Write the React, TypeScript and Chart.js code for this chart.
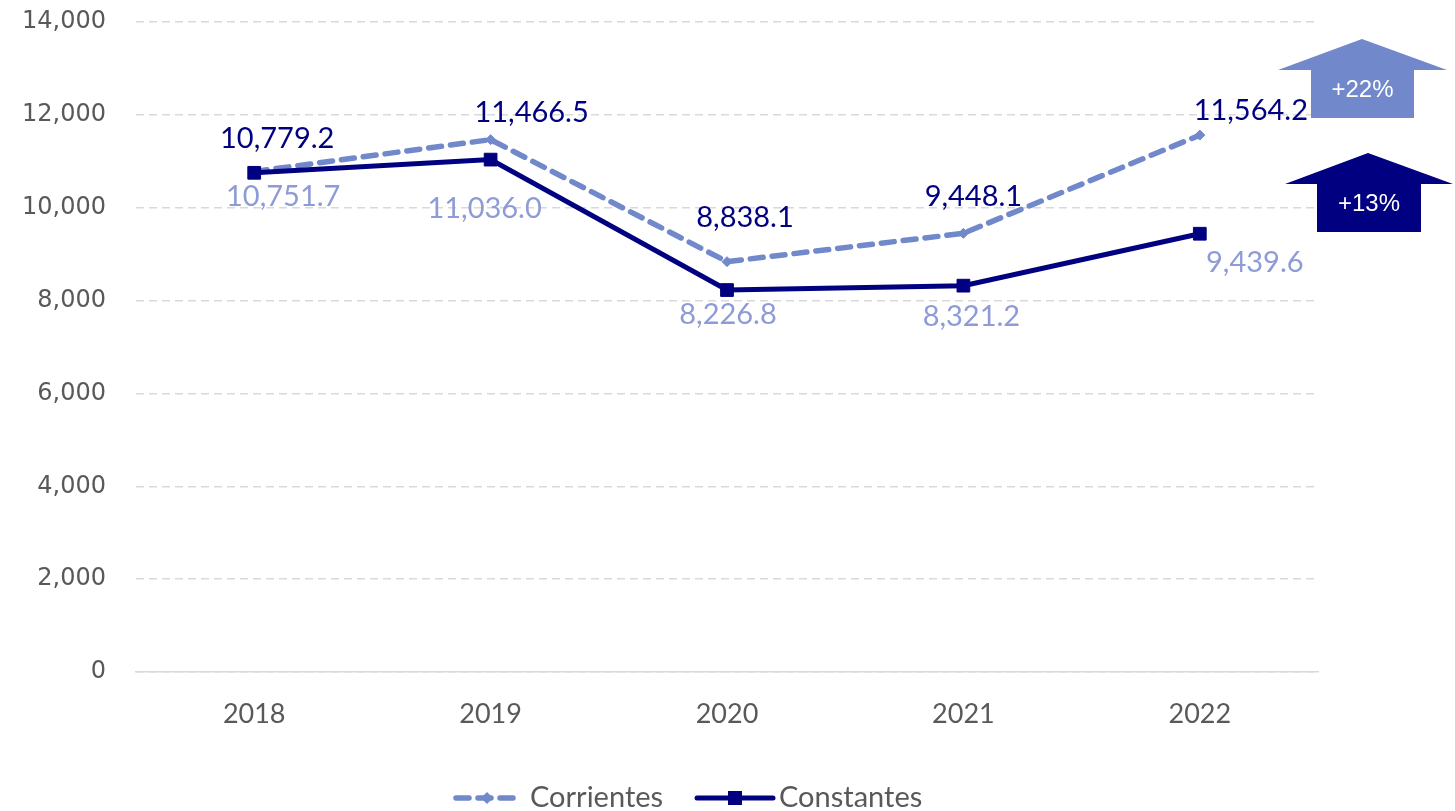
import React, { useEffect, useRef } from "react";
import { Chart, registerables } from "chart.js";

Chart.register(...registerables);

const categories = ["2018", "2019", "2020", "2021", "2022"];
const corrientes = [10779.2, 11466.5, 8838.1, 9448.1, 11564.2];
const constantes = [10751.7, 11036.0, 8226.8, 8321.2, 9439.6];
const yTicks = [0, 2000, 4000, 6000, 8000, 10000, 12000, 14000];
const seriesNames = ["Corrientes", "Constantes"];
const changeLabels = ["+22%", "+13%"];

// label placement nudges (pixels, relative to the point)
const corrientesNudge = [[23, -33], [41, -27], [18, -44], [10, -37], [51, -24]];
const constantesNudge = [[29, 24], [-6, 49], [1, 25], [8, 31], [55, 29]];

const LIGHT = "#7189CB";
const LIGHT_TEXT = "#8E9BD6";
const DARK = "#000080";
const GRAY_TEXT = "#595959";
const GRID = "#D9D9D9";

const fmt = (v: number) =>
  v.toLocaleString("en-US", { minimumFractionDigits: 1, maximumFractionDigits: 1 });

const overlayPlugin = {
  id: "overlay",
  afterDatasetsDraw(chart: any) {
    const ctx = chart.ctx as CanvasRenderingContext2D;
    ctx.save();
    ctx.font = "29px Lato";
    ctx.textAlign = "center";
    ctx.textBaseline = "middle";
    const m0 = chart.getDatasetMeta(0);
    const m1 = chart.getDatasetMeta(1);
    m0.data.forEach((p: any, i: number) => {
      ctx.fillStyle = DARK;
      ctx.fillText(fmt(corrientes[i]), p.x + corrientesNudge[i][0], p.y + corrientesNudge[i][1]);
    });
    m1.data.forEach((p: any, i: number) => {
      ctx.fillStyle = LIGHT_TEXT;
      ctx.fillText(fmt(constantes[i]), p.x + constantesNudge[i][0], p.y + constantesNudge[i][1]);
    });
    ctx.restore();
  },
  afterDraw(chart: any) {
    const ctx = chart.ctx as CanvasRenderingContext2D;
    const R = chart.chartArea.right;
    ctx.save();
    const arrow = (cx: number, top: number, wingY: number, wl: number, wr: number, bl: number, br: number, bottom: number, color: string, text: string, ty: number) => {
      ctx.fillStyle = color;
      ctx.beginPath();
      ctx.moveTo(cx, top);
      ctx.lineTo(wr, wingY);
      ctx.lineTo(br, wingY);
      ctx.lineTo(br, bottom);
      ctx.lineTo(bl, bottom);
      ctx.lineTo(bl, wingY);
      ctx.lineTo(wl, wingY);
      ctx.closePath();
      ctx.fill();
      ctx.fillStyle = "#FFFFFF";
      ctx.font = "24px 'Liberation Sans'";
      ctx.textAlign = "center";
      ctx.textBaseline = "middle";
      ctx.fillText(text, (bl + br) / 2, ty);
    };
    arrow(R + 44, 39, 70, R - 40, R + 129, R - 7, R + 96, 118, LIGHT, changeLabels[0], 90);
    arrow(R + 50, 153, 184, R - 33, R + 135, R - 1, R + 103, 232, DARK, changeLabels[1], 204);

    // legend
    const ly = 798;
    ctx.lineCap = "round";
    ctx.strokeStyle = LIGHT;
    ctx.lineWidth = 5.5;
    ctx.setLineDash([13, 9]);
    ctx.beginPath();
    ctx.moveTo(456, ly);
    ctx.lineTo(515, ly);
    ctx.stroke();
    ctx.setLineDash([]);
    ctx.fillStyle = LIGHT;
    ctx.beginPath();
    ctx.moveTo(487, ly - 6);
    ctx.lineTo(493, ly);
    ctx.lineTo(487, ly + 6);
    ctx.lineTo(481, ly);
    ctx.closePath();
    ctx.fill();
    ctx.strokeStyle = DARK;
    ctx.lineWidth = 5;
    ctx.beginPath();
    ctx.moveTo(697, ly);
    ctx.lineTo(773, ly);
    ctx.stroke();
    ctx.fillStyle = DARK;
    ctx.fillRect(728, ly - 7, 14, 14);
    ctx.fillStyle = GRAY_TEXT;
    ctx.font = "29px Lato";
    ctx.textAlign = "left";
    ctx.textBaseline = "middle";
    ctx.fillText(seriesNames[0], 530, ly);
    ctx.fillText(seriesNames[1], 779, ly);
    ctx.restore();
  },
};

export default function App() {
  const ref = useRef<HTMLCanvasElement | null>(null);
  useEffect(() => {
    if (!ref.current) return;
    const chart = new Chart(ref.current, {
      type: "line",
      data: {
        labels: categories,
        datasets: [
          {
            label: seriesNames[0],
            data: corrientes,
            borderColor: LIGHT,
            backgroundColor: LIGHT,
            borderWidth: 5.5,
            borderDash: [13, 9],
            borderCapStyle: "round",
            pointStyle: "rectRot",
            pointRadius: 5,
            pointBorderWidth: 1,
            pointBackgroundColor: LIGHT,
            pointBorderColor: LIGHT,
            tension: 0,
            order: 1,
          },
          {
            label: seriesNames[1],
            data: constantes,
            borderColor: DARK,
            backgroundColor: DARK,
            borderWidth: 5,
            pointStyle: "rect",
            pointRadius: 9,
            pointBorderWidth: 1,
            pointBackgroundColor: DARK,
            pointBorderColor: DARK,
            tension: 0,
            order: 0,
          },
        ],
      },
      options: {
        animation: false,
        responsive: true,
        maintainAspectRatio: false,
        layout: { padding: { top: 22, right: 137, bottom: 0, left: 0 } },
        plugins: { legend: { display: false }, tooltip: { enabled: false } },
        scales: {
          x: {
            offset: true,
            grid: { display: false, drawTicks: false },
            border: { display: true, color: GRID, width: 1.5 },
            ticks: { color: GRAY_TEXT, font: { family: "Lato", size: 27 }, padding: 26 },
            afterFit: (s: any) => {
              s.height = 139;
            },
          },
          y: {
            min: 0,
            max: 14000,
            afterBuildTicks: (s: any) => {
              s.ticks = yTicks.map((v) => ({ value: v }));
            },
            grid: {
              color: GRID,
              lineWidth: 1.5,
              drawTicks: true,
              tickLength: 28,
              tickColor: "rgba(0,0,0,0)",
            },
            border: { display: false, dash: [8, 5] },
            ticks: {
              color: GRAY_TEXT,
              font: { family: "'DejaVu Sans'", size: 24 },
              padding: 2,
              callback: (v: any) => Number(v).toLocaleString("en-US"),
            },
            afterFit: (s: any) => {
              s.width = 136;
            },
          },
        },
      },
      plugins: [overlayPlugin],
    });
    return () => chart.destroy();
  }, []);
  return (
    <div style={{ position: "absolute", left: 0, top: 0, width: 1455, height: 811 }}>
      <canvas ref={ref} />
    </div>
  );
}
